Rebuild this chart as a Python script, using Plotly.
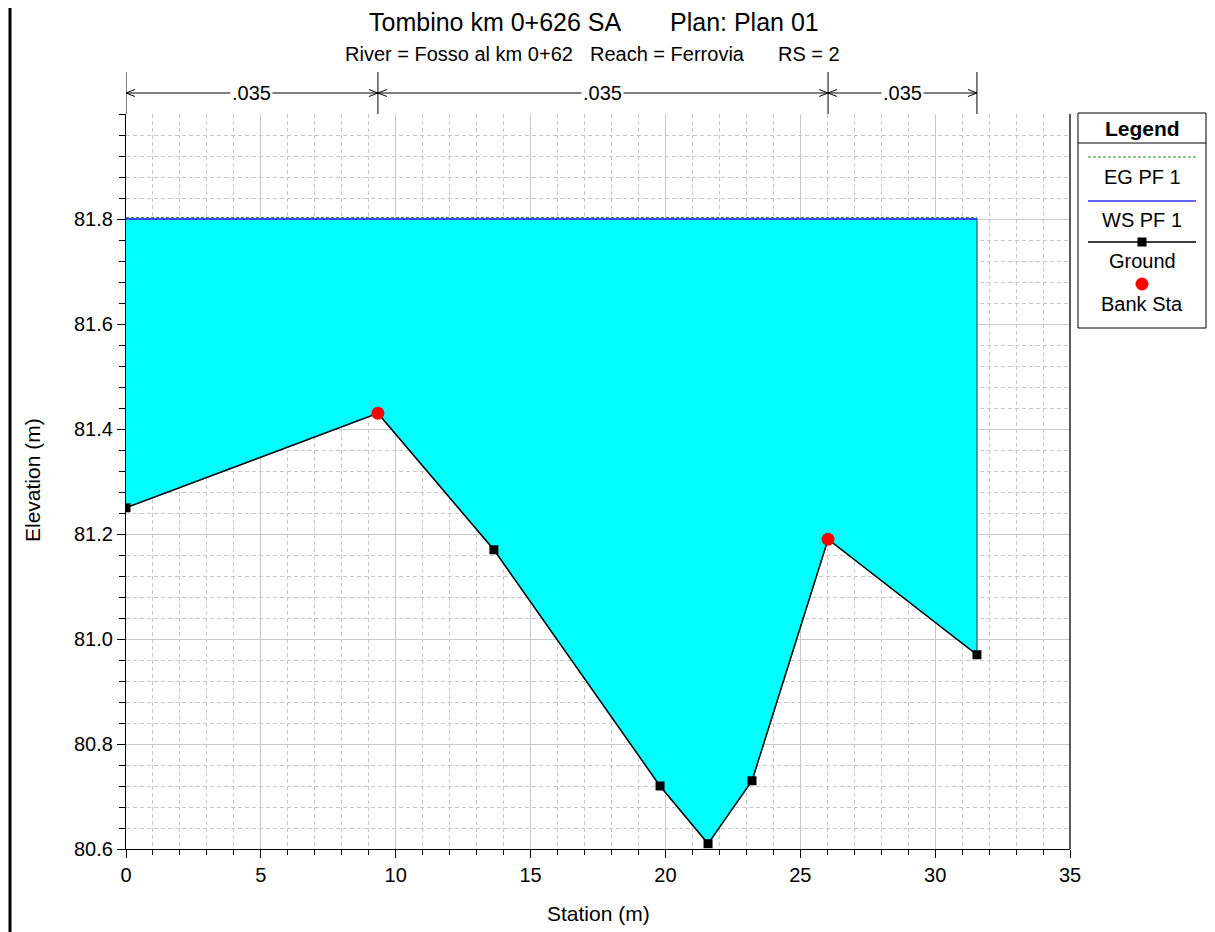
import plotly.graph_objects as go

# ---------------- data ----------------
station = [0.0, 9.34, 13.64, 19.80, 21.58, 23.21, 26.03, 31.55]
elevation = [81.25, 81.43, 81.17, 80.72, 80.61, 80.73, 81.19, 80.97]
bank_station = [9.34, 26.03]
bank_elevation = [81.43, 81.19]
ws_elev = 81.80
eg_elev = 81.803
manning_breaks = [0.0, 9.34, 26.03, 31.55]
manning_n = [".035", ".035", ".035"]

title_main = ["Tombino km 0+626 SA", "Plan: Plan 01"]
title_sub = ["River = Fosso al km 0+62", "Reach = Ferrovia", "RS = 2"]

# ---------------- layout helpers ----------------
PAGE_OFF = 8  # default body margin of the html page
W, H = 1215, 932
L, R, T, B = 126, 1070, 114, 849   # plot area in page pixels
X0, X1 = 0, 35
Y0, Y1 = 80.6, 82.0


def px(x):
    return (x - L) / (R - L)


def py(y):
    return (B - y) / (B - T)


FONT = "Liberation Sans, Arial, sans-serif"
fig = go.Figure()

x_min, x_max = station[0], station[-1]

# water fill
fig.add_trace(go.Scatter(
    x=station + [x_max, x_min], y=elevation + [ws_elev, ws_elev],
    fill="toself", fillcolor="#00FFFF", mode="lines",
    line=dict(color="#1f7f7f", width=1.5), hoverinfo="skip", showlegend=False))
# EG
fig.add_trace(go.Scatter(x=[x_min, x_max], y=[eg_elev, eg_elev], mode="lines",
                         line=dict(color="#2e8b2e", width=1, dash="3px,2px"), showlegend=False))
# WS
fig.add_trace(go.Scatter(x=[x_min, x_max], y=[ws_elev, ws_elev], mode="lines",
                         line=dict(color="#3030ff", width=1.5), showlegend=False))
# ground
fig.add_trace(go.Scatter(x=station, y=elevation, mode="lines+markers",
                         line=dict(color="black", width=1.3),
                         marker=dict(symbol="square", size=9, color="black"), showlegend=False))
# bank stations
fig.add_trace(go.Scatter(x=bank_station, y=bank_elevation, mode="markers",
                         marker=dict(symbol="circle", size=13, color="#ff0000"), showlegend=False))

shapes = []
annotations = []

# right border of plot
shapes.append(dict(type="line", xref="paper", yref="paper", x0=1, x1=1, y0=0, y1=1,
                   line=dict(color="black", width=1.3)))
# outer left frame line
shapes.append(dict(type="line", xref="paper", yref="paper", x0=px(10), x1=px(10),
                   y0=py(-5), y1=py(H + 5), line=dict(color="black", width=3)))

# Manning's n bar
yb_top, yb_mid, yb_bot = py(72), py(93), py(114)
for xb in manning_breaks:
    shapes.append(dict(type="line", xref="x", yref="paper", x0=xb, x1=xb, y0=yb_bot, y1=yb_top,
                       line=dict(color="black", width=1)))
shapes.append(dict(type="line", xref="x", yref="paper", x0=manning_breaks[0], x1=manning_breaks[-1],
                   y0=yb_mid, y1=yb_mid, line=dict(color="black", width=1)))
ux = (X1 - X0) / (R - L)  # data per px
uy = 1 / (B - T)
for i in range(len(manning_n)):
    a, b = manning_breaks[i], manning_breaks[i + 1]
    for xe, s in ((a, 1), (b, -1)):
        for d in (1, -1):
            shapes.append(dict(type="line", xref="x", yref="paper", x0=xe, x1=xe + s * 9 * ux,
                               y0=yb_mid, y1=yb_mid + d * 3.5 * uy, line=dict(color="black", width=1)))
    annotations.append(dict(x=(a + b) / 2, y=yb_mid, xref="x", yref="paper", text=manning_n[i],
                            showarrow=False, bgcolor="white", borderpad=1,
                            font=dict(family=FONT, size=20, color="black"),
                            xanchor="center", yanchor="middle"))

# titles
annotations.append(dict(x=px(495), y=py(22), xref="paper", yref="paper", text=title_main[0],
                        showarrow=False, font=dict(family=FONT, size=25, color="black"),
                        xanchor="center", yanchor="middle"))
annotations.append(dict(x=px(744), y=py(22), xref="paper", yref="paper", text=title_main[1],
                        showarrow=False, font=dict(family=FONT, size=25, color="black"),
                        xanchor="center", yanchor="middle"))
for txt, cx in zip(title_sub, [459, 667, 809]):
    annotations.append(dict(x=px(cx), y=py(54), xref="paper", yref="paper", text=txt,
                            showarrow=False, font=dict(family=FONT, size=20, color="black"),
                            xanchor="center", yanchor="middle"))

# legend box
lx0, lx1, ly0, ly1 = 1078, 1206, 113, 328
shapes.append(dict(type="rect", xref="paper", yref="paper", x0=px(lx0), x1=px(lx1),
                   y0=py(ly1), y1=py(ly0), line=dict(color="black", width=1), fillcolor="white"))
shapes.append(dict(type="line", xref="paper", yref="paper", x0=px(lx0), x1=px(lx1),
                   y0=py(143), y1=py(143), line=dict(color="black", width=1)))
cxl = (lx0 + lx1) / 2
annotations.append(dict(x=px(cxl), y=py(128), xref="paper", yref="paper", text="<b>Legend</b>",
                        showarrow=False, font=dict(family=FONT, size=21, color="black"),
                        xanchor="center", yanchor="middle"))
shapes.append(dict(type="line", xref="paper", yref="paper", x0=px(1088), x1=px(1196),
                   y0=py(157), y1=py(157), line=dict(color="#2e8b2e", width=1, dash="3px,2px")))
shapes.append(dict(type="line", xref="paper", yref="paper", x0=px(1088), x1=px(1196),
                   y0=py(201), y1=py(201), line=dict(color="#3030ff", width=1.5)))
shapes.append(dict(type="line", xref="paper", yref="paper", x0=px(1088), x1=px(1196),
                   y0=py(242), y1=py(242), line=dict(color="black", width=1.3)))
shapes.append(dict(type="rect", xref="paper", yref="paper", x0=px(cxl - 4.5), x1=px(cxl + 4.5),
                   y0=py(246.5), y1=py(237.5), line=dict(color="black", width=0), fillcolor="black"))
shapes.append(dict(type="circle", xref="paper", yref="paper", x0=px(cxl - 6.5), x1=px(cxl + 6.5),
                   y0=py(290.5), y1=py(277.5), line=dict(color="#ff0000", width=0), fillcolor="#ff0000"))
for txt, yy in [("EG PF 1", 177), ("WS PF 1", 220), ("Ground", 261), ("Bank Sta", 304)]:
    annotations.append(dict(x=px(cxl), y=py(yy), xref="paper", yref="paper", text=txt,
                            showarrow=False, font=dict(family=FONT, size=20, color="black"),
                            xanchor="center", yanchor="middle"))

# axis titles
annotations.append(dict(x=px(598), y=py(913), xref="paper", yref="paper", text="Station (m)",
                        showarrow=False, font=dict(family=FONT, size=21, color="black"),
                        xanchor="center", yanchor="middle"))
annotations.append(dict(x=px(32), y=py(480), xref="paper", yref="paper", text="Elevation (m)",
                        showarrow=False, textangle=-90, font=dict(family=FONT, size=21, color="black"),
                        xanchor="center", yanchor="middle"))

y_ticks = [80.6, 80.8, 81.0, 81.2, 81.4, 81.6, 81.8]
GRID = "#c8c8c8"

fig.update_layout(
    width=W - PAGE_OFF, height=H - PAGE_OFF,
    margin=dict(l=L - PAGE_OFF, r=W - R, t=T - PAGE_OFF, b=H - B, pad=0),
    paper_bgcolor="white", plot_bgcolor="white",
    showlegend=False,
    font=dict(family=FONT, size=20, color="black"),
    shapes=shapes, annotations=annotations,
    xaxis=dict(range=[X0, X1], dtick=5, tick0=0, showline=True, linecolor="black", linewidth=1.3,
               ticks="outside", ticklen=8, tickcolor="black", tickwidth=1,
               showgrid=True, gridcolor=GRID, gridwidth=1.3, zeroline=False,
               tickfont=dict(family=FONT, size=20, color="black"),
               minor=dict(dtick=1, ticks="outside", ticklen=5, tickcolor="black",
                          showgrid=True, gridcolor=GRID, griddash="4px,3px", gridwidth=1)),
    yaxis=dict(range=[Y0, Y1], tickvals=y_ticks, ticktext=[f"{v:.1f}" for v in y_ticks],
               showline=True, linecolor="black", linewidth=1.3,
               ticks="outside", ticklen=8, tickcolor="black", tickwidth=1,
               showgrid=True, gridcolor=GRID, gridwidth=1.3, zeroline=False,
               tickfont=dict(family=FONT, size=20, color="black"),
               minor=dict(tick0=80.6, dtick=0.04, ticks="outside", ticklen=6, tickcolor="black",
                          showgrid=True, gridcolor=GRID, griddash="4px,3px", gridwidth=1)),
)

fig.write_html("out.html")
